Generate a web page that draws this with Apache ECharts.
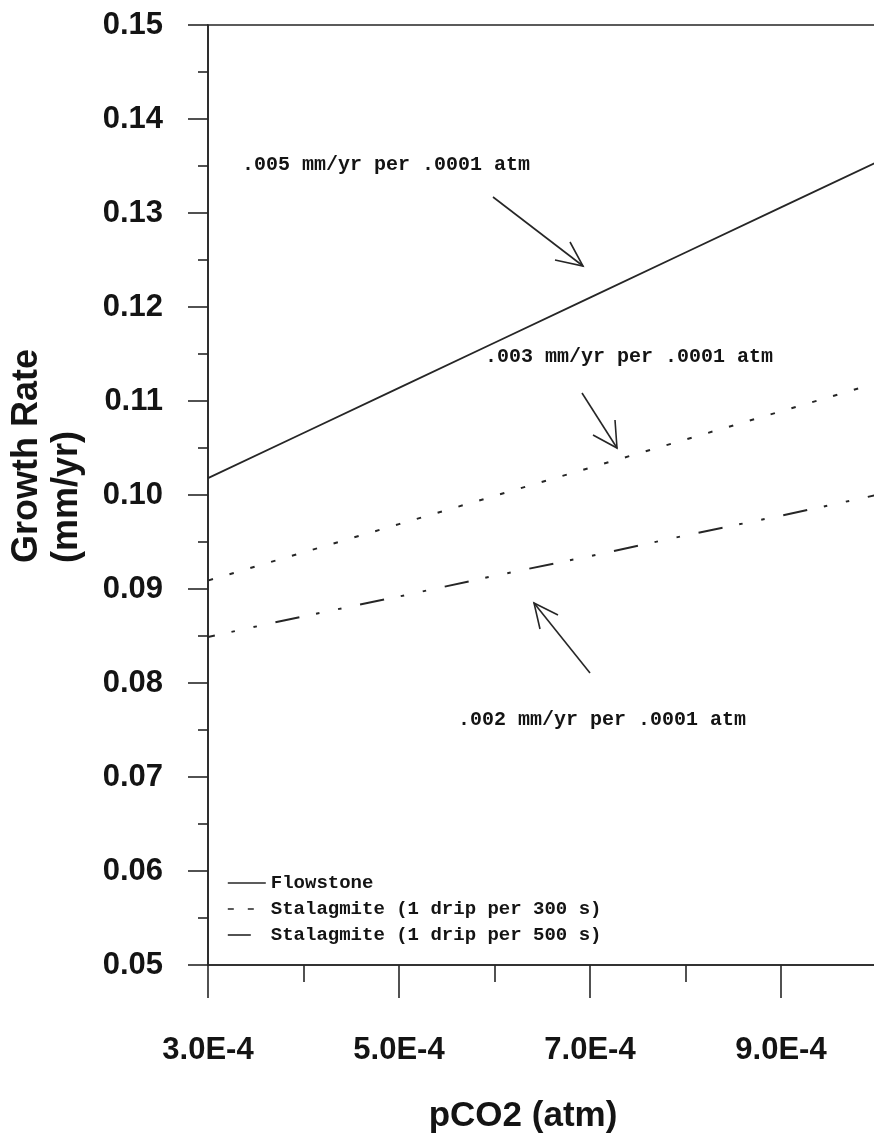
<!DOCTYPE html>
<html>
<head>
<meta charset="utf-8">
<script src="https://cdn.jsdelivr.net/npm/echarts@6/dist/echarts.min.js"></script>
<style>
  html, body { margin: 0; padding: 0; background: #ffffff; }
  #chart { width: 874px; height: 1138px; }
</style>
</head>
<body>
<div id="chart"></div>
<script>
// ---- data ----
const xValues = [3e-4, 4e-4, 5e-4, 6e-4, 7e-4, 8e-4, 9e-4, 1.0e-3, 1.1e-3];
const flowstone = [0.1018, 0.1066, 0.1114, 0.1162, 0.1210, 0.1258, 0.1306, 0.1354, 0.1402];
const stalagmite300 = [0.0909, 0.0939, 0.0969, 0.0999, 0.1029, 0.1059, 0.1089, 0.1119, 0.1149];
const stalagmite500 = [0.0849, 0.0871, 0.0892, 0.0914, 0.0935, 0.0957, 0.0978, 0.1000, 0.1021];
const seriesNames = ['Flowstone', 'Stalagmite (1 drip per 300 s)', 'Stalagmite (1 drip per 500 s)'];
const xTickValues = [3e-4, 5e-4, 7e-4, 9e-4, 1.1e-3];
const xTickLabels = ['3.0E-4', '5.0E-4', '7.0E-4', '9.0E-4', '1.1E-3'];
const yTickValues = [0.05, 0.06, 0.07, 0.08, 0.09, 0.10, 0.11, 0.12, 0.13, 0.14, 0.15];
const yTickLabels = ['0.05', '0.06', '0.07', '0.08', '0.09', '0.10', '0.11', '0.12', '0.13', '0.14', '0.15'];
const xAxisTitle = 'pCO2 (atm)';
const yAxisTitle = ['Growth Rate', '(mm/yr)'];
const annotationTexts = ['.005 mm/yr per .0001 atm', '.003 mm/yr per .0001 atm', '.002 mm/yr per .0001 atm'];

// ---- helpers ----
function lookup(values, labels, v) {
  for (let i = 0; i < values.length; i++) {
    if (Math.abs(values[i] - v) < 1e-9) return labels[i];
  }
  return '';
}
function pairs(xs, ys) { return xs.map((x, i) => [x, ys[i]]); }

const INK = '#141414';
const LINE = '#262626';
const MONO = '"Liberation Mono", "DejaVu Sans Mono", monospace';
const SANS = '"Liberation Sans", Arial, Helvetica, sans-serif';

function arrow(tail, tip, b1, b2) {
  return [
    { type: 'line', shape: { x1: tail[0], y1: tail[1], x2: tip[0], y2: tip[1] },
      style: { stroke: LINE, lineWidth: 1.6 } },
    { type: 'polyline', shape: { points: [b1, tip, b2] },
      style: { stroke: LINE, lineWidth: 1.6, fill: null } }
  ];
}

const chart = echarts.init(document.getElementById('chart'), null, { renderer: 'canvas' });

const option = {
  backgroundColor: '#ffffff',
  animation: false,
  grid: {
    left: 208, top: 25, width: 764, bottom: 173,
    containLabel: false, outerBoundsMode: 'none',
    show: true, borderColor: LINE, borderWidth: 1.6, backgroundColor: 'transparent'
  },
  xAxis: {
    type: 'value',
    min: 3e-4, max: 1.1e-3, interval: 2e-4,
    axisLine: { show: true, lineStyle: { color: LINE, width: 1.6 } },
    axisTick: { show: true, length: 33, lineStyle: { color: LINE, width: 1.6 } },
    minorTick: { show: true, splitNumber: 2, length: 17, lineStyle: { color: LINE, width: 1.6 } },
    splitLine: { show: false },
    axisLabel: {
      margin: 70, color: INK, fontFamily: SANS, fontWeight: 'bold', fontSize: 31,
      formatter: v => lookup(xTickValues, xTickLabels, v)
    }
  },
  yAxis: {
    type: 'value',
    min: 0.05, max: 0.15, interval: 0.01,
    axisLine: { show: true, lineStyle: { color: LINE, width: 1.6 } },
    axisTick: { show: true, length: 20, lineStyle: { color: LINE, width: 1.6 } },
    minorTick: { show: true, splitNumber: 2, length: 10, lineStyle: { color: LINE, width: 1.6 } },
    splitLine: { show: false },
    axisLabel: {
      margin: 45, color: INK, fontFamily: SANS, fontWeight: 'bold', fontSize: 31,
      formatter: v => lookup(yTickValues, yTickLabels, v)
    }
  },
  legend: {
    orient: 'vertical',
    left: 227, top: 873,
    itemWidth: 38, itemHeight: 14, itemGap: 6,
    padding: 0,
    itemStyle: { color: 'rgba(0,0,0,0)', borderColor: 'rgba(0,0,0,0)', borderWidth: 0, opacity: 0 },
    textStyle: { color: INK, fontFamily: MONO, fontWeight: 'bold', fontSize: 19, lineHeight: 20 },
    data: [
      { name: seriesNames[0], lineStyle: { color: LINE, width: 1.6, type: 'solid' } },
      { name: seriesNames[1], lineStyle: { color: LINE, width: 1.6, type: [6, 14], dashOffset: 0 } },
      { name: seriesNames[2], lineStyle: { color: LINE, width: 1.6, type: [23, 20], dashOffset: 0 } }
    ]
  },
  series: [
    {
      name: seriesNames[0], type: 'line', showSymbol: false, symbol: 'none',
      itemStyle: { color: LINE },
      data: pairs(xValues, flowstone),
      lineStyle: { color: LINE, width: 1.8, type: 'solid' }
    },
    {
      name: seriesNames[1], type: 'line', showSymbol: false, symbol: 'none',
      itemStyle: { color: LINE },
      data: pairs(xValues, stalagmite300),
      lineStyle: { color: LINE, width: 2, type: [4.5, 17.2], dashOffset: 21 }
    },
    {
      name: seriesNames[2], type: 'line', showSymbol: false, symbol: 'none',
      itemStyle: { color: LINE },
      data: pairs(xValues, stalagmite500),
      lineStyle: { color: LINE, width: 2, type: [24.5, 17, 3.5, 19, 3.5, 19], dashOffset: 17.5 }
    }
  ],
  graphic: [
    // axis titles
    { type: 'text', x: 523, y: 1116,
      style: { text: xAxisTitle, fill: INK, font: 'bold 35px ' + SANS, align: 'center', verticalAlign: 'middle' } },
    { type: 'text', x: 27, y: 563, rotation: Math.PI / 2,
      style: { text: yAxisTitle[0], fill: INK, font: 'bold 36px ' + SANS, align: 'left', verticalAlign: 'middle' } },
    { type: 'text', x: 67, y: 563, rotation: Math.PI / 2,
      style: { text: yAxisTitle[1], fill: INK, font: 'bold 36px ' + SANS, align: 'left', verticalAlign: 'middle' } },
    // annotations
    { type: 'text', x: 242, y: 165,
      style: { text: annotationTexts[0], fill: INK, font: 'bold 20px ' + MONO, align: 'left', verticalAlign: 'middle' } },
    { type: 'text', x: 485, y: 357,
      style: { text: annotationTexts[1], fill: INK, font: 'bold 20px ' + MONO, align: 'left', verticalAlign: 'middle' } },
    { type: 'text', x: 458, y: 720,
      style: { text: annotationTexts[2], fill: INK, font: 'bold 20px ' + MONO, align: 'left', verticalAlign: 'middle' } },
    ...arrow([493, 197], [583, 266], [570, 242], [555, 260]),
    ...arrow([582, 393], [617, 448], [615, 420], [593, 435]),
    ...arrow([590, 673], [534, 603], [558, 615], [540, 629])
  ]
};

chart.setOption(option);
</script>
</body>
</html>
